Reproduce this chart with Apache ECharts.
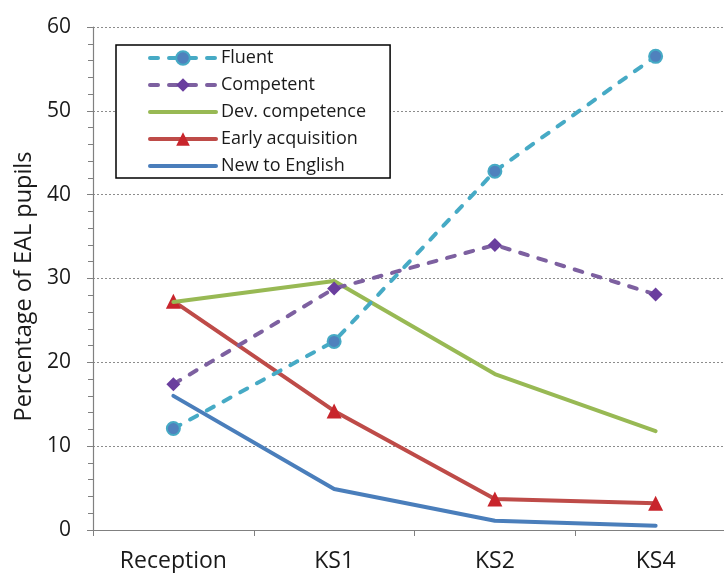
<!DOCTYPE html>
<html><head><meta charset="utf-8">
<script src="https://cdn.jsdelivr.net/npm/echarts@6/dist/echarts.min.js"></script>
<style>html,body{margin:0;padding:0;background:#fff;overflow:hidden;width:724px;height:573px}#c{width:750px;height:573px}</style>
</head><body><div id="c"></div>
<script>
const categories = ["Reception", "KS1", "KS2", "KS4"];
const fluent = [12.1, 22.5, 42.8, 56.5];
const competent = [17.4, 28.8, 34.0, 28.1];
const devCompetence = [27.2, 29.7, 18.6, 11.8];
const earlyAcquisition = [27.3, 14.2, 3.7, 3.2];
const newToEnglish = [16.0, 4.9, 1.1, 0.5];
const seriesNames = ["Fluent", "Competent", "Dev. competence", "Early acquisition", "New to English"];
const yTitle = "Percentage of EAL pupils";

const font = "'Open Sans', Roboto, sans-serif";
const chart = echarts.init(document.getElementById('c'));
chart.setOption({
  animation: false,
  backgroundColor: '#fff',
  textStyle: { fontFamily: font },
  grid: { left: 93, top: 27, width: 643, bottom: 43, containLabel: false },
  legend: {
    orient: 'vertical', left: 116, top: 45,
    data: [
      { name: seriesNames[0] },
      { name: seriesNames[1] },
      { name: seriesNames[2], itemStyle: { opacity: 0 } },
      { name: seriesNames[3] },
      { name: seriesNames[4], itemStyle: { opacity: 0 } }
    ],
    backgroundColor: '#fff',
    borderColor: '#000', borderWidth: 1.5, borderRadius: 0,
    padding: [2, 24, 1, 32],
    itemWidth: 66, itemHeight: 17, itemGap: 5,
    lineStyle: { width: 4 },
    textStyle: { fontSize: 18, color: '#1a1a1a', fontFamily: font, lineHeight: 22 }
  },
  xAxis: {
    type: 'category', data: categories, boundaryGap: true,
    axisLine: { lineStyle: { color: '#808080', width: 1.2 } },
    axisTick: { show: true, length: 6, lineStyle: { color: '#808080' } },
    axisLabel: { fontSize: 23, color: '#1a1a1a', margin: 20, fontFamily: font },
    splitLine: { show: false }
  },
  yAxis: {
    type: 'value', min: 0, max: 60, interval: 10,
    name: yTitle, nameLocation: 'middle', nameGap: 55,
    nameTextStyle: { fontSize: 23.5, color: '#1a1a1a', fontFamily: font, padding: [0, 16, 0, 0] },
    axisLine: { show: true, lineStyle: { color: '#808080', width: 1.2 } },
    axisTick: { show: true, length: 6, lineStyle: { color: '#808080' } },
    minorTick: { show: true, splitNumber: 5, length: 5, lineStyle: { color: '#808080' } },
    axisLabel: { fontSize: 21, color: '#1a1a1a', margin: 22, fontFamily: font },
    splitLine: { show: true, lineStyle: { color: '#8c8c8c', type: [2, 2], width: 1 } }
  },
  series: [
    { name: seriesNames[4], type: 'line', data: newToEnglish, symbol: 'none',
      lineStyle: { color: '#4A7EBB', width: 4, cap: 'round' }, itemStyle: { color: '#4A7EBB' }, z: 2 },
    { name: seriesNames[3], type: 'line', data: earlyAcquisition, symbol: 'triangle', symbolSize: 15,
      lineStyle: { color: '#BE4B48', width: 4, cap: 'round' }, itemStyle: { color: '#C8252C' }, z: 3 },
    { name: seriesNames[2], type: 'line', data: devCompetence, symbol: 'none',
      lineStyle: { color: '#98B954', width: 4, cap: 'round' }, itemStyle: { color: '#98B954' }, z: 4 },
    { name: seriesNames[1], type: 'line', data: competent, symbol: 'diamond', symbolSize: 14,
      lineStyle: { color: '#7D60A0', width: 4, type: [8, 11], cap: 'round' }, itemStyle: { color: '#6A3E9E' }, z: 5 },
    { name: seriesNames[0], type: 'line', data: fluent, symbol: 'circle', symbolSize: 13,
      lineStyle: { color: '#46AAC5', width: 4, type: [8, 11], cap: 'round' },
      itemStyle: { color: '#4F81BD', borderColor: '#46AAC5', borderWidth: 2 }, z: 6 }
  ]
});
</script></body></html>
